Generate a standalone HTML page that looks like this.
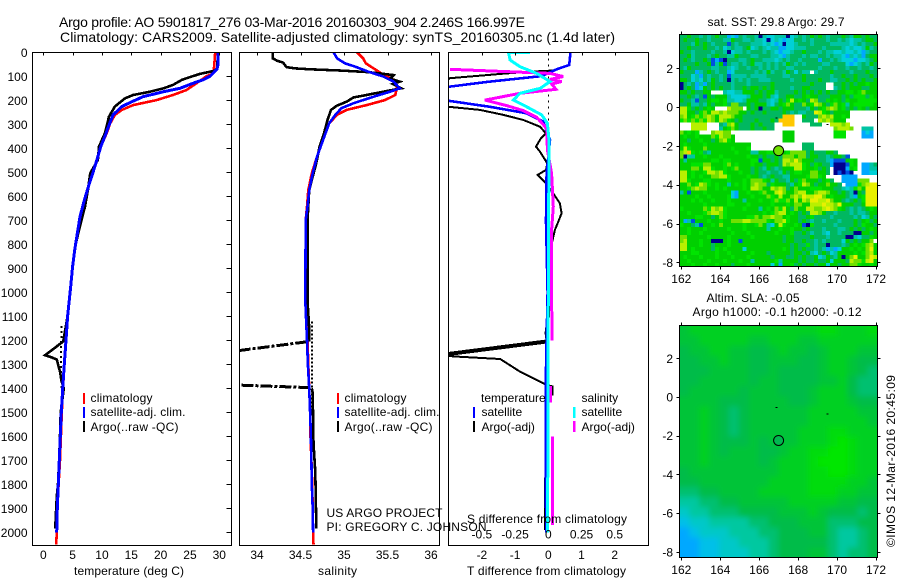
<!DOCTYPE html>
<html lang="en">
<head>
<meta charset="utf-8">
<title>Argo profile 5901817_276</title>
<style>
html,body{margin:0;padding:0;background:#fff;width:900px;height:580px;overflow:hidden}
svg{display:block}
text{font-family:"Liberation Sans",sans-serif;font-size:12px;fill:#000}
.big{font-size:14px}
.mid{font-size:13px}
</style>
</head>
<body>
<svg id="chart" xmlns="http://www.w3.org/2000/svg" width="900" height="580" viewBox="0 0 900 580">
<defs>
<clipPath id="clip-t"><rect x="32.5" y="52.5" width="199" height="493"/></clipPath>
<clipPath id="clip-s"><rect x="239.5" y="52.5" width="200" height="493"/></clipPath>
<clipPath id="clip-d"><rect x="448.5" y="52.5" width="200" height="493"/></clipPath>
<clipPath id="clip-m2"><rect x="679.5" y="325.5" width="198" height="232"/></clipPath>
<filter id="soft" filterUnits="userSpaceOnUse" x="640" y="290" width="260" height="290"><feGaussianBlur stdDeviation="3"/></filter>
</defs>
<g id="layer-maps"></g>
<g id="layer-lines"></g>
<g id="layer-axes"></g>

<text class="big" x="59" y="27" textLength="466" lengthAdjust="spacing">Argo profile: AO 5901817_276 03-Mar-2016 20160303_904 2.246S 166.997E</text>
<text class="big" x="60" y="42" textLength="555" lengthAdjust="spacing">Climatology: CARS2009. Satellite-adjusted climatology: synTS_20160305.nc (1.4d later)</text>

<text x="74" y="575" textLength="110" lengthAdjust="spacing">temperature (deg C)</text>
<text x="318" y="575" textLength="39" lengthAdjust="spacing">salinity</text>
<text x="467" y="575" textLength="159" lengthAdjust="spacing">T difference from climatology</text>
<text x="467" y="523" textLength="160" lengthAdjust="spacing">S difference from climatology</text>

<rect x="83" y="393" width="2" height="11" fill="#f00"/>
<rect x="83" y="407" width="2" height="11" fill="#00f"/>
<rect x="83" y="421" width="2" height="11" fill="#000"/>
<text x="90.5" y="402" textLength="62" lengthAdjust="spacing">climatology</text>
<text x="90.5" y="416" textLength="95" lengthAdjust="spacing">satellite-adj. clim.</text>
<text x="90.5" y="431" textLength="88" lengthAdjust="spacing">Argo(..raw -QC)</text>

<rect x="337" y="393" width="2" height="11" fill="#f00"/>
<rect x="337" y="407" width="2" height="11" fill="#00f"/>
<rect x="337" y="421" width="2" height="11" fill="#000"/>
<text x="344.5" y="402" textLength="62" lengthAdjust="spacing">climatology</text>
<text x="344.5" y="416" textLength="95" lengthAdjust="spacing">satellite-adj. clim.</text>
<text x="344.5" y="431" textLength="88" lengthAdjust="spacing">Argo(..raw -QC)</text>

<text x="326.5" y="517" textLength="116" lengthAdjust="spacing">US ARGO PROJECT</text>
<text x="326.5" y="531" textLength="160" lengthAdjust="spacing">PI: GREGORY C. JOHNSON</text>

<text x="481" y="402">temperature</text>
<rect x="473" y="407" width="2" height="11" fill="#00f"/>
<rect x="473" y="421" width="2" height="11" fill="#000"/>
<text x="481.5" y="416">satellite</text>
<text x="481.5" y="431">Argo(-adj)</text>
<text x="581.5" y="402">salinity</text>
<rect x="573" y="407" width="2.5" height="11" fill="#0ff"/>
<rect x="573" y="421" width="2.5" height="11" fill="#f0f"/>
<text x="581.5" y="416">satellite</text>
<text x="581.5" y="431">Argo(-adj)</text>

<text x="707.5" y="26" textLength="137" lengthAdjust="spacing">sat. SST: 29.8 Argo: 29.7</text>
<text x="706.5" y="302" textLength="93" lengthAdjust="spacing">Altim. SLA: -0.05</text>
<text x="692.5" y="316" textLength="169" lengthAdjust="spacing">Argo h1000: -0.1 h2000: -0.12</text>
<text transform="translate(895 547) rotate(-90)" textLength="172" lengthAdjust="spacing">©IMOS 12-Mar-2016 20:45:09</text>
</svg>

<script>
// ---- axis ticks ----
var depthTicks = [0,100,200,300,400,500,600,700,800,900,1000,1100,1200,1300,1400,1500,1600,1700,1800,1900,2000];
var tempTicks = [0,5,10,15,20,25,30];
var salTicks = [34,34.5,35,35.5,36];
var salTickLabels = ["34","34.5","35","35.5","36"];
var tDiffTicks = [-2,-1,0,1,2];
var tDiffTickLabels = ["-2","-1","0","1","2"];
var sDiffTicks = [-0.5,-0.25,0,0.25,0.5];
var sDiffTickLabels = ["-0.5","-0.25","0","0.25","0.5"];
var lonTicks = [162,164,166,168,170,172];
var latTicks = [2,0,-2,-4,-6,-8];

// ---- temperature panel ----
var tempClimDepth = [0,50,80,90,100,129,157,178,199,220,240,261,296,337,393,476,546,615,685,755,824,893,976,1100,1200,1300,1400,1500,1600,1700,1800,1900,2000,2050];
var tempClimValue = [29.3,29.15,29.05,28.8,27.8,26.1,24.4,22.1,19.3,15.3,13.4,12.2,11.4,10.8,9.8,8.8,7.85,7,6.25,5.8,5.35,5,4.67,4.15,3.87,3.6,3.35,3.15,3,2.85,2.6,2.4,2.3,2.2];
var tempSatDepth = [0,50,70,100,115,129,150,164,185,206,226,261,310,337,393,476,546,615,685,755,824,893,976,1100,1200,1300,1400,1500,1600,1700,1800,1900,2000];
var tempSatValue = [29.8,29.8,29.6,28.4,27.2,25.5,23.3,20.5,17,15.1,13.4,11.9,11.1,10.7,9.8,8.8,7.85,7,6.25,5.8,5.35,5,4.67,4.15,3.87,3.58,3.3,3.07,2.9,2.73,2.56,2.39,2.28];
var tempArgoDepth = [0,70,78,90,108,115,136,150,164,178,192,226,268,337,393,448,504,574,643,685,740,800,893,976,1100,1205,1262,1270,1280,1300,1330,1370,1400,1500,1600,1700,1800,1850,1950,1985];
var tempArgoValue = [29.8,29.6,29,26.7,24.4,23.6,22.1,20.5,18.2,15.3,13.9,12.2,11.2,10.5,9.5,9.3,8,7.6,7.1,6.65,6.1,5.5,5,4.7,4.15,3.4,0.3,1.3,2.3,2.5,2.85,3.1,3.5,2.97,2.85,2.7,2.5,2.3,2.1,2.05];
var tempRawDepth = [1140,1290,1400];
var tempRawValue = [3.1,3,3.1];

// ---- salinity panel ----
var salClimDepth = [0,25,46,67,88,115,143,178,199,220,240,261,296,365,435,504,574,643,700,1035,1200,1300,1400,1500,1600,1700,1800,1900,2000,2050];
var salClimValue = [35.15,35.22,35.25,35.34,35.43,35.57,35.61,35.59,35.47,35.26,35.03,34.92,34.83,34.76,34.69,34.63,34.59,34.575,34.56,34.56,34.58,34.59,34.6,34.61,34.615,34.625,34.635,34.64,34.645,34.65];
var salSatDepth = [0,25,46,60,81,101,122,150,164,185,212,233,261,296,365,435,504,574,643,700,1035,1200,1300,1400,1500,1600,1700,1800,1900,2000];
var salSatValue = [34.88,34.92,35.01,35.13,35.28,35.45,35.57,35.64,35.53,35.34,35.11,34.97,34.9,34.83,34.76,34.69,34.64,34.6,34.58,34.56,34.555,34.575,34.585,34.6,34.61,34.62,34.625,34.63,34.64,34.645];
var salArgoDepth = [0,25,35,43,62,67,71,76,82,88,95,110,122,132,150,164,178,188,206,222,240,282,338,393,463,518,574,643,699,1035,1150,1206,null,1400,1420,1628,1750,1950,1985];
var salArgoValue = [34.18,34.18,34.23,34.3,34.34,34.44,34.61,34.95,35.26,35.41,35.57,35.53,35.64,35.56,35.66,35.45,35.26,35.11,35.03,34.92,34.85,34.81,34.77,34.72,34.68,34.64,34.6,34.59,34.58,34.58,34.6,34.6,null,34.63,34.64,34.65,34.67,34.68,34.68];
var salRawDepthA = [1243,1206];
var salRawValueA = [33.79,34.58];
var salRawDepthB = [1387,1397];
var salRawValueB = [33.82,34.6];
var salDotDepth = [1122,1500];
var salDotValue = [34.63,34.635];

// ---- difference panel ----
var tDiffSatDepth = [0,53,71,99,122,143,170,202,227,254,289,365,504,706,1000,1400,1700,2000];
var tDiffSatValue = [0.67,0.63,0.25,-0.2,-1.76,-2.96,-3.6,-3,-1.76,-0.65,-0.15,0.05,-0.05,-0.07,-0.02,-0.08,-0.08,-0.06];
var tDiffArgoDepth = [0,53,76,80,88,108,170,227,240,261,282,310,338,358,393,414,463,490,511,546,588,629,671,706,740,800,900,1000,1100,1135,1170,1205,1262,1268,1278,1331,1386,1392,1430,null,1510,1600,1900,1990];
var tDiffArgoValue = [0.67,0.63,0.15,-0.45,-1.25,-2.96,-3.6,-3,-2.06,-1.35,-0.75,-0.25,-0.07,-0.22,-0.37,-0.25,-0.03,-0.07,-0.32,-0.07,0.15,0.35,0.4,0.3,0.2,0.1,0.07,0.03,0.02,-0.05,-0.08,-0.05,-3.3,-2.76,-1.45,-0.85,-0.05,0.13,0.13,null,-0.08,-0.08,-0.1,-0.1];
var tDiffSpikeDepth = [1205,1262];
var tDiffSpikeValue = [-0.05,-3.3];
var sDiffArgoDepth = [71,88,101,113,122,132,154,171,199,222,243,271,317,407,504,643,740,1000,1200,null,1390,1460,null,1600,1970];
var sDiffArgoValue = [-0.74,0.013,0.113,0.013,0.1,0.025,0.058,-0.213,-0.477,-0.313,-0.188,-0.087,-0.012,-0.007,0.025,0.038,0.025,0.025,0.028,null,0.018,0.018,null,0.03,0.03];
var sDiffSatDepth = [0,1,32,60,88,122,150,171,199,227,261,296,365,1000,2000];
var sDiffSatValue = [-0.138,-0.3,-0.288,-0.213,-0.087,0.013,-0.06,-0.213,-0.263,-0.163,-0.05,-0.007,0.005,0,-0.005];

// ---- SST map: one code per cell, "." = no data ----
var sstCodes = {n:"#00008c",b:"#0050e0",s:"#00a8ff",c:"#00d0d8",t:"#00c4a4",d:"#00b860",g:"#00d000",G:"#00e400",l:"#70e000",y:"#b8f000",Y:"#e8f000",o:"#ffc800"};
var sstRows = [
"ddgdd tdtdg ddscs dtddt ntcct ttnct dtdgd gdtdd dgdtg gdgdd",
"dgddg ddtdd dttgd dttdt tcnct csccd dtdtd ddtdd tdtct tdggd",
"dddtg dgdtd ddbdt dddtt tctcs cncct dddtd dddtt tttct dtddg",
"ddgdd dgddt dctdt tdgct dtctt sscct ttddd dtddd dtctc ctgtd",
"gddtd dddtd dtnct tdtdd dtdtc scctd dgddd tdttc ctcct cstdd",
"ddgtd ddtdg ddttg dddtt dddtt cstdd dtdtt ddtdt tcstc tsdgg",
"dgdtd dgdbs bnddd ttdgd dtttc tdtdd tdddd sddtd tcccs cctdg",
"ddddg ddgbt gbdtt dtdgt tdtdt dtgdt dtddd dttdd ddcsc tdtgd",
"dtgdd dddtt ddtct ddtdd tdtdt ddttd ddddd tdddt ddtdd tddtd",
"gddds tdgdt ddscd ddddt dtgtd dtgdc dtt.t dddgd dddtd ddgdd",
"dddct sdtdd tdbtt ttdtt ttddd dttdd dgddd dddtd dgddg dddgd",
"ggdct cdtgd tdntd tdtdd tttdd dddtd dgddd gddtt ddgdg dgddg",
"ndtds tsdgd dddtd ddtdd dddgd ddddd dddgd dd..d dgdgd ggGgg",
"ndgds cgdgd gddtd dgdgg dgdgd dddtd dggdd dd..t dgdgg gddgg",
"ggdgd dgg.. .tcct tgggd gdggt ddddg dgdgd gdgdd ggGGg Glggg",
"ddgdt dbgdg ggtcc cctgg gdgtc ddggd dgGgg dddgg gdgdG GGdGg",
"gddtb ddgGG gGttc ctggg ddtct gdGyg Ggdyl ddGgG gdGgg GGGGG",
"ddgtt dtgdg gGdll ddgdg ggtcd gGlgd dlgGy lgdGl gGtgG GGGGg",
"yyGdg dgGg. ..yll l.gdg nddgg dgggd ddtgd gGlyl gGdgd Ggdgg",
"yyggd Glgyy lylll ggdgd dgddd dgdtd ttddY yGgdg ggg.. .....",
"lygGl Glylg yyylg gdddd ddddd dooo. .gddd lylyg gGg.. .....",
"GlGlG lGylg ylGgd gdddg dddgd oooo. .ddd. ylylg gg... .....",
"...yy yy... dtlyg dddgd gddd. .ooo. ...dd d..yy yly.. .....",
"...yy yy... tgGlg dddgd dgdd. ..... ..... ....l yyyl. .ttt.",
"lgGgG ...ly yll.. ..... ..... .ggg. ..... ....G GG... .scs.",
"gGggG ggglG yllg. ..... ..... .ggg. ..... ....G GG... .sss.",
"ggdgg Gggdg lyGg. ..... ..... .ggg. ..... ..... ..... .....",
"gGggg gGggg ggggg ggg.. ..... ..... .ddd. ..... ..... .....",
"gyGgg glggg gggGg ggG.. ..... ..... .ddd. ..... ..... .....",
"lyoGg Gdtgg ggggG gggtt ggGG. dgGll lldgd ddggd ..... .....",
"lnttg gGggg Ggggg ggGgg dgddg dlllg lldgg ddtdg gdb.. .....",
"gtggg gggGG gGGgg gggGG bggdg dyylY lgggd ddtsb bbgGg .....",
"gggGG Gllgg gGlgG gggGg gdggg dylyy yGgdG gddsn nnbGg .sstd",
"gggll gyyGg gGgGl gggdg dtgdt dgggy yGggG dgd.n nnsgG .sstt",
"yygGg gGyyl yGggg Gggdg ddtdd tgdgG Gggll ggd.n bnbn. .sscc",
"yygGg Gggll yyGgg ggGgg dtdgd dttgg ggGll Gg... .ssss .....",
"yyGgg gGGgg ggGgg gGgll lGgtg ddtgd Glggg dgGd. .ssss lll..",
"gglgG ylGgG ggtgG gGgly lldGg ggdtg Gylgd gglgg d.sss GlyYY",
"ggGly llggG gGggg gGgyy lggyl yldgl gggGG Ggggd dtctG lgYYY",
"tgbgg gGggg gggcs ggGgg Glggy Ylggl yyggl yylgg dgdtn gdYYY",
"ggggG ggGgg ggGcs gggGg gglGg yggly lYyyY YlgGg ggdts gGYYY",
"gggGg GggGg ggGgg gtggg GggGl GGlgy gylYY yyYlg gdtdg dGYYY",
"ggggg gGggg ggGGg ggGgg gggGg ggGgl lggyy yYyyl Ygggd dgYYY",
"Ggggg glGyl yGggg gGggg tgGgl Gygdl ggyyl lyYyl Ggdtd tdgGg",
"ggGgg gGlyy lGggg ggggg gGgGl yygGg dgdyy lgddt dddtd ttdgg",
"ggggG Gggdg lGggg ggGGl gllyl lgGgg ddgGd dddtd ddddt dctgd",
"gstbg ggGgg Gggll lyyll llGgl lyGgg dgdtd dtddd tdddg dgGdg",
"Gggdt bggGg lgggg gGggG lgtcg yGggG gbnGd ddddt ddddg dGggd",
"ggGgg gGggg ggGgg gGggg ggtgg GggGg gdgdd dtddd ttdgd gdgGg",
"ggGgg Ggggg gggGg ggGgg ggggG gggGd dgdtd dtcdd tdddn nggdg",
"llggg ggGgg ggGgg gggGg ggggg gdggd dddgd ddtdd ddnnt cddGg",
"lyggg Gggnn ngGgg bgggg ggggg gdggd dgddt dtddd dcgdg dggl.",
"yyggg Gggdg ggGgg ggggg ggggg gggdg ddGdt ddndd dtdgG gGlyg",
"yygGg gggdG gGggg gcggg ggggg gGgdg dgddt dtsts cggGg GglYg",
"gggGG ggggG ggGgg gggGg ggdgg gggdg gdgtc dgdct ggggG gGlyg",
"gGggg GgggG gggGg ggGgg gggdg ggddg dgddg ctgdt gnglY gglYy",
"ggGgg ggGgg gGggg Gggtg ggggG tgggg dgddg ddgcg ggdyl lGyYg",
"gggGg gGggG gggdg ggGgg gggcg sggGd gdggd ggcgg dggll GggGg"
];

// ---- SLA map: level 0 (low) to 9 (high) per cell ----
var slaPalette = ["#00a8ff","#00c0e8","#00c8c8","#00c8a0","#00c070","#00bc48","#00c438","#00d020","#00dc10","#00e600"];
var slaRows = [
"67777777777777887778",
"66777776677766777777",
"56677665567665677766",
"55667665566655677655",
"55566665565555677654",
"55666665665555667544",
"56666656665556777544",
"66665556666556777655",
"66765456666667777766",
"66765456666667777776",
"66765456666677788777",
"66765556566677789877",
"66765666556778899877",
"66766666567778999877",
"56666666667778899877",
"55666666677778888776",
"44556666777778887766",
"33445566666777776655",
"23344455556667655545",
"12233334455566644455",
"01222333445556643345",
"00112233345555543345",
"00112223345556643445"
];

// ---- positions on the maps ----
var floatLon = [166.997];
var floatLat = [-2.246];
var landLon = [166.9,169.5];
var landLat = [-0.55,-0.89];

// ---- scales ----
var NS = "http://www.w3.org/2000/svg";
function yDepth(d){ return 52.3 + d*0.24; }
function xTemp(t){ return 43.3 + t*5.867; }
function xSal(s){ return 257 + (s-34)*87; }
function xTDiff(t){ return 548.3 + t*33.2; }
function xSDiff(s){ return 548.3 + s*132.8; }
function xLon(l){ return 681.3 + (l-162)*19.47; }
function yLat1(l){ return 107.1 - l*19.4; }
function yLat2(l){ return 397 - l*19.35; }

function mk(parent, tag, attrs){
  var el = document.createElementNS(NS, tag);
  for (var k in attrs) { el.setAttribute(k, attrs[k]); }
  parent.appendChild(el);
  return el;
}
function series(parent, xFn, depths, values, color, width, clip, name, dash){
  var d = "", pen = false;
  for (var i = 0; i < depths.length; i++) {
    if (depths[i] === null || values[i] === null) { pen = false; continue; }
    d += (pen ? "L" : "M") + xFn(values[i]).toFixed(1) + " " + yDepth(depths[i]).toFixed(1);
    pen = true;
  }
  var el = mk(parent, "path", {d:d, fill:"none", stroke:color, "stroke-width":width, "clip-path":"url(#"+clip+")", "shape-rendering":"crispEdges"});
  if (dash) { el.setAttribute("stroke-dasharray", dash); }
  
  
}
function label(parent, x, y, str, anchor, name){
  var el = mk(parent, "text", {x:x, y:y, "text-anchor":anchor});
  el.textContent = str;
  
  
}
function tick(parent, x1, y1, x2, y2, name){
  var el = mk(parent, "line", {x1:x1, y1:y1, x2:x2, y2:y2, stroke:"#000", "stroke-width":1, "shape-rendering":"crispEdges"});
  
  
}
function box(parent, x, y, w, h, name){
  var el = mk(parent, "rect", {x:x, y:y, width:w, height:h, fill:"none", stroke:"#000", "stroke-width":1, "shape-rendering":"crispEdges"});
  
  
}

var lines = document.getElementById("layer-lines");
var axes = document.getElementById("layer-axes");
var maps = document.getElementById("layer-maps");

// temperature profile
series(lines, xTemp, tempClimDepth, tempClimValue, "#f00", 2.6, "clip-t", "temperature-climatology-line");
series(lines, xTemp, tempRawDepth, tempRawValue, "#000", 2, "clip-t", "temperature-argo-raw-dots", "2 3");
series(lines, xTemp, tempArgoDepth, tempArgoValue, "#000", 2.6, "clip-t", "temperature-argo-line");
series(lines, xTemp, tempSatDepth, tempSatValue, "#00f", 3, "clip-t", "temperature-satellite-line");

// salinity profile
series(lines, xSal, salClimDepth, salClimValue, "#f00", 2.6, "clip-s", "salinity-climatology-line");
series(lines, xSal, salDotDepth, salDotValue, "#000", 2, "clip-s", "salinity-argo-raw-dots", "2 2");
series(lines, xSal, salRawDepthA, salRawValueA, "#000", 3, "clip-s", "salinity-argo-raw-spike-upper", "12 2 3 2");
series(lines, xSal, salRawDepthB, salRawValueB, "#000", 3, "clip-s", "salinity-argo-raw-spike-lower", "12 2 3 2");
series(lines, xSal, salArgoDepth, salArgoValue, "#000", 2.6, "clip-s", "salinity-argo-line");
series(lines, xSal, salSatDepth, salSatValue, "#00f", 2.6, "clip-s", "salinity-satellite-line");

// difference profile
series(lines, xTDiff, [0,1400], [0,0], "#000", 1, "clip-d", "zero-difference-line", "2 4");
series(lines, xTDiff, tDiffArgoDepth, tDiffArgoValue, "#000", 2, "clip-d", "t-difference-argo-line");
series(lines, xTDiff, tDiffSpikeDepth, tDiffSpikeValue, "#000", 4, "clip-d", "t-difference-argo-spike");
series(lines, xTDiff, tDiffSatDepth, tDiffSatValue, "#00f", 2.6, "clip-d", "t-difference-satellite-line");
series(lines, xSDiff, sDiffArgoDepth, sDiffArgoValue, "#f0f", 3, "clip-d", "s-difference-argo-line");
series(lines, xSDiff, sDiffSatDepth, sDiffSatValue, "#0ff", 3, "clip-d", "s-difference-satellite-line");

// frames
box(axes, 32.5, 52.5, 199, 493, "temperature-plot-frame");
box(axes, 239.5, 52.5, 200, 493, "salinity-plot-frame");
box(axes, 448.5, 52.5, 200, 493, "difference-plot-frame");

// depth axis
depthTicks.forEach(function(d){
  label(axes, 27.5, yDepth(d)+4.5, String(d), "end", "depth-tick-label");
  var rx = 231.5;
  tick(axes, rx-5, Math.round(yDepth(d))+0.5, rx, Math.round(yDepth(d))+0.5, "depth-tick");
});
// x axes
tempTicks.forEach(function(t){
  label(axes, xTemp(t), 559, String(t), "middle", "temperature-tick-label");
  tick(axes, Math.round(xTemp(t))+0.5, 52.5, Math.round(xTemp(t))+0.5, 55.5, "temperature-tick");
});
salTicks.forEach(function(s, i){
  label(axes, xSal(s), 559, salTickLabels[i], "middle", "salinity-tick-label");
  tick(axes, Math.round(xSal(s))+0.5, 52.5, Math.round(xSal(s))+0.5, 55.5, "salinity-tick");
});
tDiffTicks.forEach(function(t, i){
  label(axes, xTDiff(t), 559, tDiffTickLabels[i], "middle", "t-difference-tick-label");
  tick(axes, Math.round(xTDiff(t))+0.5, 52.5, Math.round(xTDiff(t))+0.5, 55.5, "t-difference-tick");
});
sDiffTicks.forEach(function(s, i){
  label(axes, xSDiff(s), 538.5, sDiffTickLabels[i], "middle", "s-difference-tick-label");
});

// SST heatmap
var SST_W = 198/50, SST_H = 233/58;
sstRows.forEach(function(row, r){
  var cells = row.replace(/ /g, "");
  for (var c = 0; c < 50; c++) {
    var code = cells.charAt(c);
    if (!sstCodes[code]) { continue; }
    var cell = mk(maps, "rect", {x:(679.3+c*SST_W).toFixed(2), y:(34+r*SST_H).toFixed(2), width:(SST_W+0.2).toFixed(2), height:(SST_H+0.2).toFixed(2), fill:sstCodes[code], "shape-rendering":"crispEdges"});
    
    
  }
});

// SLA heatmap
var slaClip = mk(maps, "g", {"clip-path":"url(#clip-m2)"});


var slaGroup = mk(slaClip, "g", {filter:"url(#soft)"});


var SLA_W = 198/20, SLA_H = 232/23;
slaRows.forEach(function(row, r){
  for (var c = 0; c < 20; c++) {
    var x0 = 679.3+c*SLA_W, y0 = 325.5+r*SLA_H, w = SLA_W+0.5, h = SLA_H+0.5;
    if (c === 0) { x0 -= 20; w += 20; }
    if (c === 19) { w += 20; }
    if (r === 0) { y0 -= 20; h += 20; }
    if (r === slaRows.length-1) { h += 20; }
    var cell = mk(slaGroup, "rect", {x:x0.toFixed(2), y:y0.toFixed(2), width:w.toFixed(2), height:h.toFixed(2), fill:slaPalette[+row.charAt(c)]});
    
    
  }
});

// map frames and ticks
box(axes, 679.5, 34.5, 198, 232, "sst-map-frame");
box(axes, 679.5, 325.5, 198, 232, "sla-map-frame");
lonTicks.forEach(function(l){
  var x = Math.round(xLon(l))+0.5;
  tick(axes, x, 31.5, x, 34.5, "sst-map-top-tick");
  tick(axes, x, 266.5, x, 269.5, "sst-map-bottom-tick");
  tick(axes, x, 322.5, x, 325.5, "sla-map-top-tick");
  tick(axes, x, 557.5, x, 560.5, "sla-map-bottom-tick");
  label(axes, xLon(l), 283, String(l), "middle", "sst-map-longitude-label");
  label(axes, xLon(l), 574, String(l), "middle", "sla-map-longitude-label");
});
latTicks.forEach(function(l){
  var y1 = Math.round(yLat1(l))+0.5, y2 = Math.round(yLat2(l))+0.5;
  tick(axes, 676.5, y1, 679.5, y1, "sst-map-left-tick");
  tick(axes, 877.5, y1, 880.5, y1, "sst-map-right-tick");
  tick(axes, 676.5, y2, 679.5, y2, "sla-map-left-tick");
  tick(axes, 877.5, y2, 880.5, y2, "sla-map-right-tick");
  label(axes, 673, yLat1(l)+4.5, String(l), "end", "sst-map-latitude-label");
  label(axes, 673, yLat2(l)+4.5, String(l), "end", "sla-map-latitude-label");
});

// land specks and float position
landLon.forEach(function(lon, i){
  var a = mk(axes, "rect", {x:xLon(lon)-1, y:yLat1(landLat[i])-0.5, width:2, height:1, fill:"#000", "shape-rendering":"crispEdges"});
  
  
  var b = mk(axes, "rect", {x:xLon(lon)-1, y:yLat2(landLat[i])-0.5, width:2, height:1, fill:"#000", "shape-rendering":"crispEdges"});
  
  
});
var sstMarker = mk(axes, "circle", {cx:xLon(floatLon[0]), cy:yLat1(floatLat[0]), r:5, fill:"#70e000", stroke:"#000", "stroke-width":1});


var slaMarker = mk(axes, "circle", {cx:xLon(floatLon[0]), cy:yLat2(floatLat[0]), r:5, fill:"#00b850", stroke:"#000", "stroke-width":1});


</script>
</body>
</html>
